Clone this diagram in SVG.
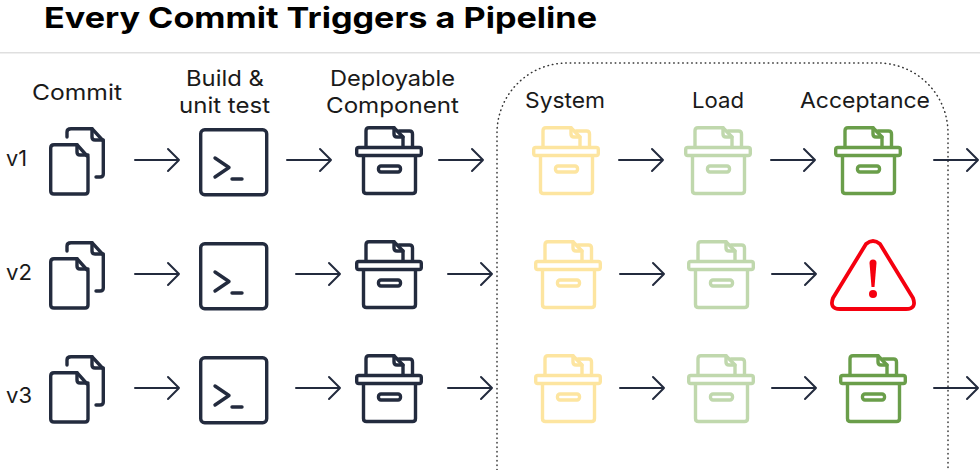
<svg xmlns="http://www.w3.org/2000/svg" width="980" height="470" viewBox="0 0 980 470">
<style>
text{font-family:"Inter","Noto Sans","Liberation Sans",sans-serif;fill:#1a1a1a;font-size:22px}
.title{font-size:29px;font-weight:700;fill:#000}
.ic{fill:none;stroke-width:3.400;stroke-linejoin:round;stroke-linecap:round}
.navy{stroke:#232b3e}
.yel{stroke:#fde5a0}
.lg{stroke:#c0d8ad}
.gr{stroke:#6a9e4a}
.arr{fill:none;stroke:#232b3e;stroke-width:2;stroke-linecap:round;stroke-linejoin:round}
</style>
<defs>
<g id="doc">
<path d="M18 10V5Q18 1.700 22 1.700H43L54.300 14V47Q54.300 50 51 50H47"/>
<path d="M43 1.700V10Q43 13 46 13H54.300"/>
<path d="M5 17.700H28L39 30V64Q39 67 36 67H5Q1.700 67 1.700 64V21Q1.700 17.700 5 17.700Z"/>
<path d="M28 17.700V25Q28 28 31 28H39"/>
</g>
<g id="term">
<rect x="1.700" y="1.700" width="66" height="65" rx="4"/>
<path d="M16 30L30 39.500L16 49"/>
<path d="M33 51H43"/>
</g>
<g id="box">
<rect x="1.700" y="21.500" width="64.600" height="8" rx="2"/>
<path d="M8.500 30V64.500Q8.500 67.500 11.500 67.500H57.500Q60.500 67.500 60.500 64.500V30"/>
<rect x="23.500" y="40" width="22" height="6" rx="2.500"/>
<path d="M11 21V4.700Q11 1.700 14 1.700H39L48 11V21"/>
<path d="M39 1.700V8Q39 11 42 11H48"/>
<path d="M44 5H54.500Q57.500 5 57.500 8V21"/>
</g>
<path id="a" d="M0 0H44M33 -11L44 0L33 11"/>
</defs>

<text class="title" x="44" y="28" textLength="553" lengthAdjust="spacingAndGlyphs">Every Commit Triggers a Pipeline</text>
<rect x="0" y="52" width="980" height="1.500" fill="#dfdfdf"/>

<g id="labels">
<text x="32" y="100" textLength="90" lengthAdjust="spacingAndGlyphs">Commit</text>
<text x="186" y="86" textLength="78" lengthAdjust="spacingAndGlyphs">Build &amp;</text>
<text x="179" y="113" textLength="91" lengthAdjust="spacingAndGlyphs">unit test</text>
<text x="330" y="86" textLength="125" lengthAdjust="spacingAndGlyphs">Deployable</text>
<text x="326" y="113" textLength="133" lengthAdjust="spacingAndGlyphs">Component</text>
<text x="525" y="108" textLength="80" lengthAdjust="spacingAndGlyphs">System</text>
<text x="692" y="108" textLength="52" lengthAdjust="spacingAndGlyphs">Load</text>
<text x="800" y="108" textLength="130" lengthAdjust="spacingAndGlyphs">Acceptance</text>
<text x="6" y="166" textLength="21" lengthAdjust="spacingAndGlyphs">v1</text>
<text x="6" y="280" textLength="26" lengthAdjust="spacingAndGlyphs">v2</text>
<text x="6" y="403" textLength="26" lengthAdjust="spacingAndGlyphs">v3</text>
</g>

<path id="boundary" d="M497 470V133A70 70 0 0 1 567 63H878A70 70 0 0 1 948 133V470" fill="none" stroke="#333" stroke-width="1.500" stroke-dasharray="0.500 4" stroke-linecap="round"/>

<g id="connectors" class="arr">
<use href="#a" x="135" y="160"/><use href="#a" x="287" y="160"/><use href="#a" x="439" y="160"/><use href="#a" x="619" y="160"/><use href="#a" x="771" y="160"/><use href="#a" x="934" y="160"/>
<use href="#a" x="135" y="274"/><use href="#a" x="296" y="274"/><use href="#a" x="448" y="274"/><use href="#a" x="620" y="274"/><use href="#a" x="772" y="274"/>
<use href="#a" x="135" y="388"/><use href="#a" x="296" y="388"/><use href="#a" x="448" y="388"/><use href="#a" x="620" y="388"/><use href="#a" x="772" y="388"/><use href="#a" x="934" y="388"/>
</g>

<g id="n-commit-v1" class="ic navy"><use href="#doc" x="49" y="127"/></g>
<g id="n-build-v1" class="ic navy"><use href="#term" x="199" y="128"/></g>
<g id="n-comp-v1" class="ic navy"><use href="#box" x="355" y="126"/></g>
<g id="n-system-v1" class="ic yel"><use href="#box" x="532" y="126"/></g>
<g id="n-load-v1" class="ic lg"><use href="#box" x="684" y="126"/></g>
<g id="n-accept-v1" class="ic gr"><use href="#box" x="834" y="126"/></g>

<g id="n-commit-v2" class="ic navy"><use href="#doc" x="49" y="241"/></g>
<g id="n-build-v2" class="ic navy"><use href="#term" x="199" y="242"/></g>
<g id="n-comp-v2" class="ic navy"><use href="#box" x="355" y="240"/></g>
<g id="n-system-v2" class="ic yel"><use href="#box" x="534" y="240"/></g>
<g id="n-load-v2" class="ic lg"><use href="#box" x="687" y="240"/></g>
<g id="n-accept-v2">
<path d="M866 244Q873 238 880 244L913 298Q917 309 906 309H840Q829 309 833 298Z" fill="none" stroke="#f5000f" stroke-width="3.800" stroke-linejoin="round"/>
<path d="M869.500 263Q869.500 259.500 873 259.500Q876.500 259.500 876.500 263L874.500 287H871.500Z" fill="#f5000f"/>
<circle cx="873" cy="294" r="4" fill="#f5000f"/>
</g>

<g id="n-commit-v3" class="ic navy"><use href="#doc" x="49" y="355"/></g>
<g id="n-build-v3" class="ic navy"><use href="#term" x="199" y="356"/></g>
<g id="n-comp-v3" class="ic navy"><use href="#box" x="355" y="354"/></g>
<g id="n-system-v3" class="ic yel"><use href="#box" x="534" y="354"/></g>
<g id="n-load-v3" class="ic lg"><use href="#box" x="687" y="354"/></g>
<g id="n-accept-v3" class="ic gr"><use href="#box" x="839" y="354"/></g>
</svg>
